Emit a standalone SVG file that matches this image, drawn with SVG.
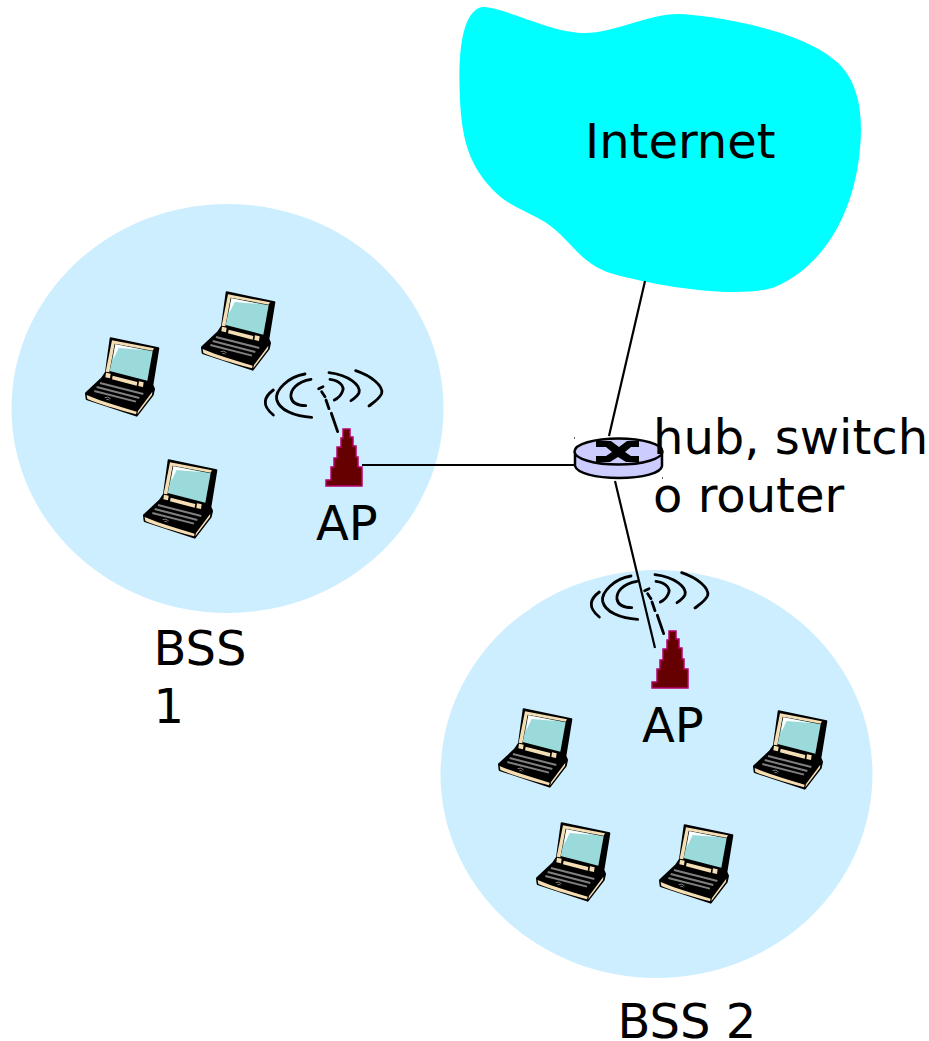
<svg xmlns="http://www.w3.org/2000/svg" width="929" height="1041" viewBox="0 0 929 1041">
<style>
text{font-family:"DejaVu Sans",sans-serif;font-size:48px;fill:#000}
.bss{fill:#cceeff}
.link{fill:none;stroke:#000;stroke-width:2.200}
.wave{fill:none;stroke:#000;stroke-width:8.500;stroke-linecap:round}
</style>
<defs>
<g id="laptop" transform="scale(.3333)">
<path fill="#000" stroke="#000" stroke-width="6" stroke-linejoin="round" d="M92 160 L235 190 L217 300 L222 312 L218 330 L170 392 L20 342 L18 325 L66 280 L78 262Z"/>
<path fill="#f5deb3" d="M96 166 L222 190 L218 197 L104 176 L88 262 L77 260Z"/>
<path fill="#9bdada" d="M106 178 L218 199 L202 287 L89 258Z"/>
<path fill="#fff" d="M106 178 L190 195 L116 189 L99 224Z"/>
<path fill="#f5deb3" d="M78 263 L92 266 L90 280 L76 277Z M177 289 L191 292 L189 306 L175 303Z M98 272 L172 291 L170 302 L96 283Z"/>
<path fill="none" stroke="#808080" stroke-width="6" d="M60 294 L190 327 M50 306 L178 339 M43 318 L168 350"/>
<path fill="none" stroke="#808080" stroke-width="3" d="M74 338 Q84 333 92 342 M79 344 Q85 341 88 346"/>
<path fill="#f5deb3" d="M20 330 Q60 348 170 380 L168 388 Q70 362 22 342Z M174 378 L217 320 L216 330 L172 388Z"/>
</g>
<g id="ap" stroke-linecap="round">
<path class="wave" transform="scale(.3333)" d="M55 90 C28 110 18 135 55 165 M150 42 C100 50 60 90 65 118 C72 150 120 170 170 172 M168 58 C125 65 105 90 108 112 C112 130 130 137 152 137 M225 58 C255 62 270 80 262 95 C258 105 248 115 238 120 M222 38 C280 45 318 75 312 98 C308 108 298 115 288 122 M302 32 C350 48 385 78 380 100 C375 115 355 128 342 138 M191 86 L204 80 M200 95 L210 110 M213 120 L222 146 M229 160 L248 215"/>
<path fill="#660000" stroke="#b80070" stroke-width="1.500" d="M88 69 H95 V77 H98 V86 H101 V97 H103 V107 H107 V126 H71 V120 H76 V107 H79 V98 H82 V87 H86 V78 H88Z"/>
</g>
</defs>
<g id="bss1"><ellipse class="bss" cx="227.500" cy="408.500" rx="216" ry="204.500"/></g>
<g id="bss2"><ellipse class="bss" cx="656.500" cy="774" rx="216" ry="204"/></g>
<g id="internet">
<path fill="#00ffff" d="M482 7 C505 7 550 33 585 33 C615 33 650 13 680 14 C720 16 810 32 842 67 C862 90 864 125 858 165 C850 215 825 265 775 287 C745 298 670 290 610 273 C578 262 572 240 545 222 C525 210 508 206 492 189 C472 167 462 145 460 100 C458 60 460 12 482 7Z"/>
<text x="585" y="158">Internet</text>
</g>
<g id="connectors">
<path class="link" d="M645 281 L609 436"/>
<path class="link" d="M362 465 L574 465"/>
<path class="link" d="M615 481 L655 648"/>
</g>
<g id="router">
<path fill="#ccccff" stroke="#000" stroke-width="2.500" d="M575 452 V466 C577 473 595 478 619 478 C643 478 661 473 662 466 V452"/>
<ellipse cx="618.500" cy="451.500" rx="44" ry="13" fill="#ccccff" stroke="#000" stroke-width="2.500"/>
<path fill="#000" d="M596 441 H611 L619 447 L627 441 H639 V447 H631 L625 452 L631 456 H639 V462 H626 L618 457 L610 462 H596 V456 H606 L612 452 L606 447 H596Z"/>
<rect x="574" y="437" width="1" height="2" fill="#666"/>
<rect x="662" y="477" width="1" height="2" fill="#666"/>
</g>
<g id="router-label">
<text x="653" y="454">hub, switch</text>
<text x="653" y="512">o router</text>
</g>
<g id="ap1"><use href="#ap" transform="translate(255 360)"/><text x="316" y="540">AP</text></g>
<g id="ap2"><use href="#ap" transform="translate(581 562)"/><text x="642" y="742">AP</text></g>
<g id="bss1-label"><text x="153.500" y="665">BSS</text><text x="153.500" y="723">1</text></g>
<g id="bss2-label"><text x="617.500" y="1038">BSS 2</text></g>
<g id="laptop1"><use href="#laptop" transform="translate(80 285)"/></g>
<g id="laptop2"><use href="#laptop" transform="translate(196 239)"/></g>
<g id="laptop3"><use href="#laptop" transform="translate(138 407)"/></g>
<g id="laptop4"><use href="#laptop" transform="translate(493 656)"/></g>
<g id="laptop5"><use href="#laptop" transform="translate(748 658)"/></g>
<g id="laptop6"><use href="#laptop" transform="translate(531 770)"/></g>
<g id="laptop7"><use href="#laptop" transform="translate(654 772)"/></g>
</svg>
